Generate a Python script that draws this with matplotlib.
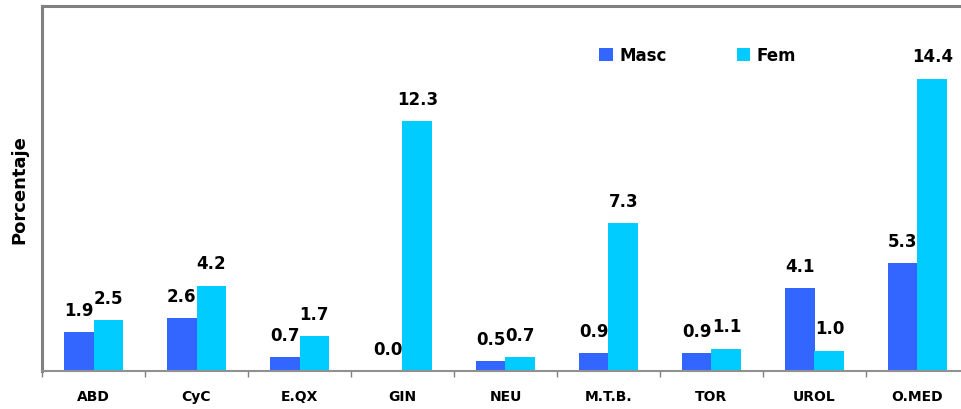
import matplotlib.pyplot as plt
import numpy as np

categories = ['ABD', 'CyC', 'E.QX', 'GIN', 'NEU', 'M.T.B.', 'TOR', 'UROL', 'O.MED']
masc = [1.9, 2.6, 0.7, 0.0, 0.5, 0.9, 0.9, 4.1, 5.3]
fem = [2.5, 4.2, 1.7, 12.3, 0.7, 7.3, 1.1, 1.0, 14.4]

masc_color = '#3366FF'
fem_color = '#00CCFF'

fig = plt.figure(figsize=(9.62, 4.10), dpi=100)
ax = fig.add_axes([42 / 962, 38 / 410, 927 / 962, 365.5 / 410])

x = np.arange(len(categories))
w = 0.29
b1 = ax.bar(x - w / 2, masc, w, color=masc_color, label='Masc')
b2 = ax.bar(x + w / 2, fem, w, color=fem_color, label='Fem')

for bars, vals in ((b1, masc), (b2, fem)):
    for r, v in zip(bars, vals):
        ax.annotate(f'{v:.1f}', (r.get_x() + r.get_width() / 2, v),
                    xytext=(0, 16), textcoords='offset points',
                    ha='center', va='center', fontsize=12, fontweight='bold')

ax.set_xlim(-0.5, len(categories) - 0.5)
ax.set_ylim(0, 18)
ax.set_xticks(x)
ax.set_xticklabels(categories, fontsize=10, fontweight='bold')
ax.set_xticks(np.arange(len(categories) + 1) - 0.5, minor=True)
ax.tick_params(axis='x', which='major', length=0, pad=13)
ax.tick_params(axis='x', which='minor', length=4, color='#808080', width=1)
ax.set_yticks([])

for s in ('left', 'top'):
    ax.spines[s].set_color('#808080')
    ax.spines[s].set_linewidth(2.2)
ax.spines['bottom'].set_color('#909090')
ax.spines['bottom'].set_linewidth(1.5)
ax.spines['right'].set_visible(False)

ax.set_ylabel('Porcentaje', fontsize=13, fontweight='bold', labelpad=10)

ax.legend(loc='upper left', bbox_to_anchor=(0.585, 0.93), ncol=2, frameon=False,
          prop={'size': 12, 'weight': 'bold'}, handlelength=0.8, handleheight=0.8,
          columnspacing=4.2, handletextpad=0.4)

fig.savefig('out.png', dpi=100)
